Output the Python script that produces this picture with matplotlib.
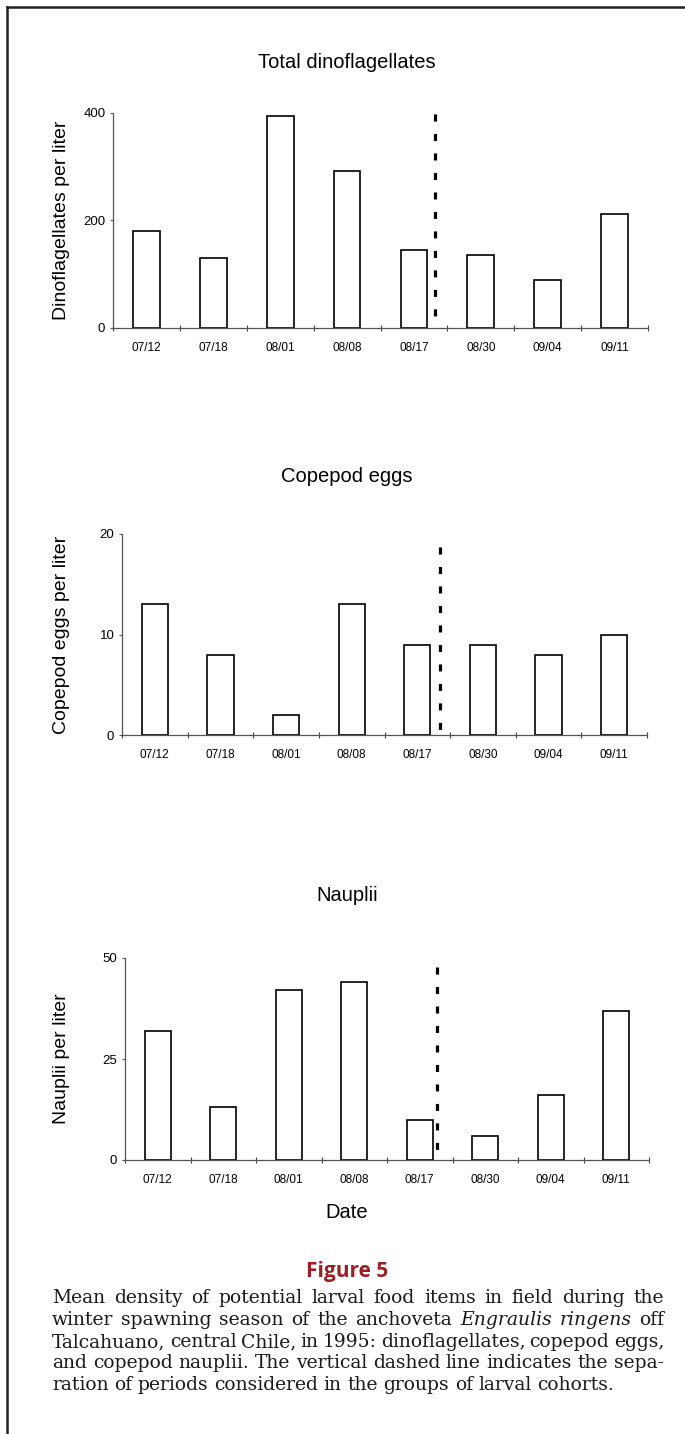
import matplotlib
matplotlib.use('Agg')
import matplotlib.pyplot as plt
from matplotlib.ticker import FixedLocator

W, H = 685, 1434

# data
dates = ['07/12', '07/18', '08/01', '08/08', '08/17', '08/30', '09/04', '09/11']
dinoflagellates = [180, 130, 395, 293, 145, 135, 90, 213]
copepod_eggs = [13, 8, 2, 13, 9, 9, 8, 10]
nauplii = [32, 13, 42, 44, 10, 6, 16, 37]

titles = ['Total dinoflagellates', 'Copepod eggs', 'Nauplii']
ylabels = ['Dinoflagellates per liter', 'Copepod eggs per liter', 'Nauplii per liter']
yticks = [[0, 200, 400], [0, 10, 20], [0, 25, 50]]
ymax = [400, 20, 50]
# dashed separator: x position (category units) and vertical extent
split_x = [4.32, 4.34, 4.26]
split_y = [(10, 398), (0.5, 18.7), (1.2, 47.8)]

caption_lines = [
    "Mean density of potential larval food items in field during the",
    "winter spawning season of the anchoveta Engraulis ringens off",
    "Talcahuano, central Chile, in 1995: dinoflagellates, copepod eggs,",
    "and copepod nauplii. The vertical dashed line indicates the sepa-",
    "ration of periods considered in the groups of larval cohorts.",
]
italic_words = {'Engraulis', 'ringens'}

# panel boxes in pixels: left, right, top, bottom
boxes = [(113, 648, 113, 328), (122, 647, 534, 735), (125, 649, 958, 1160)]
title_y = [62, 476, 895]
ylabel_x = [62, 61, 61]

SANS = 'Liberation Sans'


def fx(x):
    return x / W


def fy(y):
    return 1 - y / H


fig = plt.figure(figsize=(W / 100, H / 100), dpi=100)
fig.patch.set_facecolor('white')

series = [dinoflagellates, copepod_eggs, nauplii]
for i, vals in enumerate(series):
    l, r, t, b = boxes[i]
    ax = fig.add_axes([fx(l), fy(b), (r - l) / W, (b - t) / H])
    x = list(range(len(dates)))
    ax.bar(x, vals, width=0.4, color='white', edgecolor='black', linewidth=1.2, zorder=2)
    ax.set_xlim(-0.5, len(dates) - 0.5)
    ax.set_ylim(0, ymax[i])
    for s in ['top', 'right']:
        ax.spines[s].set_visible(False)
    for s in ['left', 'bottom']:
        ax.spines[s].set_color('#555555')
        ax.spines[s].set_linewidth(0.9)
    ax.set_yticks(yticks[i])
    ax.tick_params(axis='y', direction='out', length=2.5, width=0.8, color='#555555',
                   labelsize=9.5, pad=3)
    ax.set_xticks(x)
    ax.set_xticklabels(dates, fontsize=8.5)
    ax.xaxis.set_minor_locator(FixedLocator([k - 0.5 for k in range(len(dates) + 1)]))
    ax.tick_params(axis='x', which='major', length=0, pad=10)
    ax.tick_params(axis='x', which='minor', direction='inout', length=5, width=0.8, color='#444444')
    for lab in ax.get_xticklabels() + ax.get_yticklabels():
        lab.set_family(SANS)
    lo, hi = split_y[i]
    ax.plot([split_x[i], split_x[i]], [hi, lo], color='black', linewidth=2.3,
            linestyle=(0, (2.2, 3.9)), zorder=3, clip_on=False)

    fig.text(fx(347), fy(title_y[i]), titles[i], ha='center', va='center',
             fontsize=14.5, family=SANS)
    fig.text(fx(ylabel_x[i]), fy((t + b) / 2), ylabels[i], ha='center', va='center',
             rotation=90, fontsize=14, family=SANS)

fig.text(fx(347), fy(1212), 'Date', ha='center', va='center', fontsize=14.5, family=SANS)

# page frame (top and left edges)
fig.add_artist(plt.Line2D([fx(7), 1], [fy(7), fy(7)], color='#222222', linewidth=1.8))
fig.add_artist(plt.Line2D([fx(7), fx(7)], [fy(7), 0], color='#222222', linewidth=1.8))

# caption
fig.text(fx(347), fy(1271), 'Figure 5', ha='center', va='center', fontsize=15,
         fontweight='bold', family='Open Sans', color='#9c1f24')

renderer = fig.canvas.get_renderer()
cap_left, cap_right = 52, 664
cap_size = 13.5
baselines = [1303, 1325, 1347, 1368, 1390]
space_px = 0.3 * cap_size * 100 / 72
for n, line in enumerate(caption_lines):
    words = line.split(' ')
    texts = []
    for w in words:
        style = 'italic' if w in italic_words else 'normal'
        texts.append(fig.text(0, fy(baselines[n]), w, ha='left', va='baseline',
                              fontsize=cap_size, family='DejaVu Serif', style=style,
                              color='#1a1a1a'))
    widths = [t.get_window_extent(renderer).width for t in texts]
    if n < len(caption_lines) - 1:
        gap = (cap_right - cap_left - sum(widths)) / (len(words) - 1)
    else:
        gap = space_px
    xpos = cap_left
    for t, w in zip(texts, widths):
        t.set_x(fx(xpos))
        xpos += w + gap

fig.savefig('out.png', dpi=100)
